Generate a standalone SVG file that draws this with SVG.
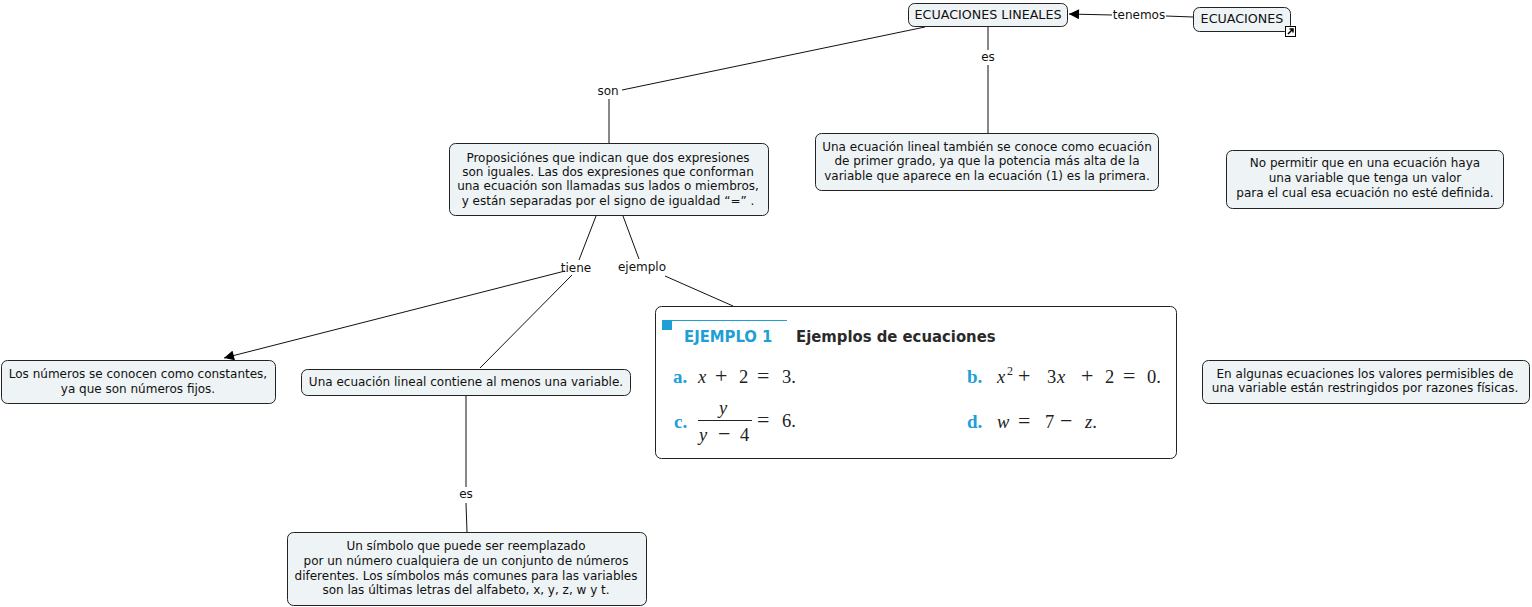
<svg xmlns="http://www.w3.org/2000/svg" width="1532" height="607" viewBox="0 0 1532 607">
<defs>
<style>
.n{fill:#eef3f5;stroke:#222;stroke-width:1}
.t{font-family:"DejaVu Sans",Verdana,sans-serif;font-size:12px;fill:#111;text-anchor:middle}
.u{font-size:12.7px}
.l{font-family:"DejaVu Sans",Verdana,sans-serif;font-size:12px;fill:#111;text-anchor:middle}
.c{stroke:#111;stroke-width:1;fill:none}
.m{font-family:"Liberation Serif","Times New Roman",serif;font-size:18.500px;fill:#222}
.mi{font-style:italic}
.o{font-size:22px}
.lb{font-family:"Liberation Serif",serif;font-size:19px;font-weight:bold;fill:#1ea0d6}
</style>
<marker id="a" viewBox="0 0 10 10" refX="10" refY="5" markerWidth="12" markerHeight="10" markerUnits="userSpaceOnUse" orient="auto"><path d="M0,0 L10,5 L0,10 z" fill="#000"/></marker>
</defs>
<rect width="1532" height="607" fill="#fff"/>
<g id="connectors">
<line class="c" x1="1193" y1="17" x2="1166" y2="16"/>
<line class="c" x1="1112" y1="15" x2="1069" y2="14" marker-end="url(#a)"/>
<text class="l" x="1139" y="19">tenemos</text>
<line class="c" x1="988" y1="26" x2="988" y2="50"/>
<text class="l" x="988" y="61">es</text>
<line class="c" x1="988" y1="65" x2="988" y2="133"/>
<line class="c" x1="925" y1="27" x2="622" y2="90"/>
<text class="l" x="608" y="95">son</text>
<line class="c" x1="609" y1="99" x2="609" y2="143"/>
<line class="c" x1="596" y1="216" x2="579" y2="260"/>
<text class="l" x="576" y="272">tiene</text>
<line class="c" x1="565" y1="271" x2="224" y2="358" marker-end="url(#a)"/>
<line class="c" x1="572" y1="275" x2="480" y2="368"/>
<line class="c" x1="623" y1="216" x2="639" y2="259"/>
<text class="l" x="642" y="271">ejemplo</text>
<line class="c" x1="665" y1="276" x2="733" y2="306"/>
<line class="c" x1="466" y1="395" x2="466" y2="487"/>
<text class="l" x="466" y="498">es</text>
<line class="c" x1="466" y1="503" x2="467" y2="532"/>
</g>
<g id="n-lineales">
<rect class="n" x="908.500" y="3.500" width="159" height="23" rx="6"/>
<text class="t u" x="988" y="19">ECUACIONES LINEALES</text>
</g>
<g id="n-ecuaciones">
<rect class="n" x="1193.500" y="7.500" width="97" height="24" rx="6"/>
<text class="t u" x="1242" y="23">ECUACIONES</text>
<rect x="1285.500" y="26.500" width="10" height="10" fill="#fff" stroke="#000"/>
<path d="M1288,34 L1293,29 M1289.500,29 L1293,29 L1293,32.500" stroke="#000" stroke-width="1.500" fill="none"/>
</g>
<g id="n-proposiciones">
<rect class="n" x="449.500" y="143.500" width="319" height="72" rx="6"/>
<text class="t" x="608" y="162">Proposiciónes que indican que dos expresiones</text>
<text class="t" x="608" y="176">son iguales. Las dos expresiones que conforman</text>
<text class="t" x="608" y="190">una ecuación son llamadas sus lados o miembros,</text>
<text class="t" x="608" y="205">y están separadas por el signo de igualdad “=” .</text>
</g>
<g id="n-tambien">
<rect class="n" x="815.500" y="133.500" width="343" height="57" rx="6"/>
<text class="t" x="987" y="151">Una ecuación lineal también se conoce como ecuación</text>
<text class="t" x="987" y="165">de primer grado, ya que la potencia más alta de la</text>
<text class="t" x="987" y="180">variable que aparece en la ecuación (1) es la primera.</text>
</g>
<g id="n-nopermitir">
<rect class="n" x="1226.500" y="150.500" width="277" height="58" rx="6"/>
<text class="t" x="1365" y="167">No permitir que en una ecuación haya</text>
<text class="t" x="1365" y="182">una variable que tenga un valor</text>
<text class="t" x="1365" y="197">para el cual esa ecuación no esté definida.</text>
</g>
<g id="n-constantes">
<rect class="n" x="1.500" y="360.500" width="274" height="43" rx="6"/>
<text class="t" x="138" y="378">Los números se conocen como constantes,</text>
<text class="t" x="138" y="393">ya que son números fijos.</text>
</g>
<g id="n-variable">
<rect class="n" x="301.500" y="369.500" width="329" height="26" rx="6"/>
<text class="t" x="466" y="386">Una ecuación lineal contiene al menos una variable.</text>
</g>
<g id="n-simbolo">
<rect class="n" x="287.500" y="532.500" width="359" height="73" rx="6"/>
<text class="t" x="466" y="550">Un símbolo que puede ser reemplazado</text>
<text class="t" x="466" y="565">por un número cualquiera de un conjunto de números</text>
<text class="t" x="466" y="580">diferentes. Los símbolos más comunes para las variables</text>
<text class="t" x="466" y="594">son las últimas letras del alfabeto, x, y, z, w y t.</text>
</g>
<g id="n-restringidos">
<rect class="n" x="1202.500" y="360.500" width="327" height="43" rx="6"/>
<text class="t" x="1365" y="378">En algunas ecuaciones los valores permisibles de</text>
<text class="t" x="1365" y="392">una variable están restringidos por razones físicas.</text>
</g>
<g id="n-ejemplo">
<rect x="655.500" y="306.500" width="521" height="152" rx="6" fill="#fff" stroke="#222"/>
<rect x="662" y="320" width="10" height="10" fill="#1ea0d6"/>
<line x1="672" y1="320.500" x2="787" y2="320.500" stroke="#1ea0d6" stroke-width="1"/>
<text x="684" y="342" font-family="'DejaVu Sans Condensed','DejaVu Sans',sans-serif" font-weight="bold" font-size="16.500" fill="#1ea0d6">EJEMPLO 1</text>
<text x="796" y="342" font-family="'DejaVu Sans Condensed','DejaVu Sans',sans-serif" font-weight="bold" font-size="16.500" fill="#2a2a2a">Ejemplos de ecuaciones</text>
<text class="lb" x="673" y="383">a.</text>
<text class="m" y="383"><tspan class="mi" x="698">x</tspan><tspan class="o" x="715">+</tspan><tspan x="739">2</tspan><tspan class="o" x="757">=</tspan><tspan x="782">3.</tspan></text>
<text class="lb" x="967" y="383">b.</text>
<text class="m" y="383"><tspan class="mi" x="997">x</tspan><tspan font-size="12" x="1007" dy="-8">2</tspan><tspan class="o" x="1018" dy="8">+</tspan><tspan x="1047">3</tspan><tspan class="mi" x="1057">x</tspan><tspan class="o" x="1081">+</tspan><tspan x="1105">2</tspan><tspan class="o" x="1123">=</tspan><tspan x="1147">0.</tspan></text>
<text class="lb" x="674" y="428">c.</text>
<text class="m mi" x="719" y="414">y</text>
<line x1="698" y1="420.500" x2="752" y2="420.500" stroke="#222" stroke-width="1"/>
<text class="m" y="441"><tspan class="mi" x="699">y</tspan><tspan class="o" x="718">−</tspan><tspan x="740">4</tspan></text>
<text class="m" y="427"><tspan class="o" x="757">=</tspan><tspan x="782">6.</tspan></text>
<text class="lb" x="967" y="428">d.</text>
<text class="m" y="428"><tspan class="mi" x="997">w</tspan><tspan class="o" x="1018">=</tspan><tspan x="1045">7</tspan><tspan class="o" x="1060">−</tspan><tspan class="mi" x="1085">z</tspan><tspan>.</tspan></text>
</g>
</svg>
